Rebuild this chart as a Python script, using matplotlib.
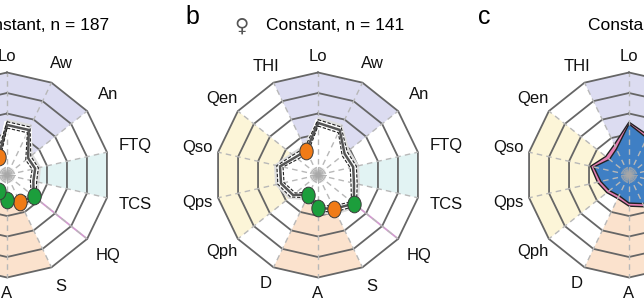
import numpy as np
import matplotlib.pyplot as plt
from matplotlib.markers import MarkerStyle
from matplotlib.transforms import Affine2D

plt.rcParams['font.family'] = ['Liberation Sans', 'DejaVu Sans']

spokes = ['Lo', 'Aw', 'An', 'FTQ', 'TCS', 'HQ', 'S', 'A', 'D', 'Qph', 'Qps', 'Qso', 'Qen', 'THI']

# profiles in ring units (5 = outer ring)
male = [2.44, 2.44, 1.32, 1.41, 1.32, 1.66, 1.46, 1.22, 0.85, 1.00, 1.30, 1.40, 1.10, 0.95]
female = [2.54, 2.44, 1.66, 1.76, 1.80, 2.24, 1.83, 1.62, 1.07, 1.56, 1.85, 1.90, 1.40, 1.32]
blue_c = [2.49, 2.00, 1.70, 1.85, 1.75, 1.95, 1.55, 1.37, 1.12, 1.22, 1.41, 1.76, 1.22, 1.41]
pink_c = [2.58, 2.15, 1.85, 2.00, 1.90, 2.10, 1.72, 1.52, 1.28, 1.38, 1.58, 1.92, 1.45, 1.65]

orange_pts = ['THI', 'S']
green_pts = ['HQ', 'A', 'D']

# shaded domains (spoke names bounding each wedge)
domains = [(['THI', 'Lo', 'Aw', 'An'], '#dcdcf1'),
           (['FTQ', 'TCS'], '#e2f3f3'),
           (['S', 'A', 'D'], '#fbe2cd'),
           (['Qph', 'Qps', 'Qso', 'Qen'], '#fcf5d8')]

titles = ['Constant, n = 187', 'Constant, n = 141', 'Constant, n = 328']

W, H = 644, 304
fig = plt.figure(figsize=(W / 100, H / 100), dpi=100)

theta = 2 * np.pi * np.arange(len(spokes)) / len(spokes)
idx = {s: i for i, s in enumerate(spokes)}
px = 20.5   # pixels per ring unit
rmax = 6.0


def closed(v):
    v = np.asarray(v, dtype=float)
    return np.append(theta, theta[0]), np.append(v, v[0])


def base(cx, cy):
    h = rmax * px
    ax = fig.add_axes([(cx - h) / W, 1 - (cy + h) / H, 2 * h / W, 2 * h / H],
                      projection='polar')
    ax.set_theta_zero_location('N')
    ax.set_theta_direction(-1)
    ax.set_ylim(0, rmax)
    ax.axis('off')
    for names, col in domains:
        t = [theta[idx[n]] for n in names]
        ax.fill([0] + t, [0] + [5] * len(t), color=col, lw=0, zorder=1)
    hq = theta[idx['HQ']]
    ax.plot([hq, hq], [0, 5], color='#d49ad0', lw=1.3, zorder=1.5)
    for k in range(1, 6):
        tt, rr = closed([k] * len(spokes))
        ax.plot(tt, rr, color='#666666', lw=1.3, zorder=2)
    for i, s in enumerate(spokes):
        sn = np.sin(theta[i])
        r = 5.78 + 0.65 * sn if sn >= 0 else 5.72 - 0.33 * sn
        ax.text(theta[i], r, s, ha='center', va='center', fontsize=12, color='#111')
    return ax


def decorate(ax):
    for t in theta:
        ax.plot([t, t], [0.55, 5], color='#b8b8b8', lw=1.0, ls=(0, (4, 3)), zorder=4)
    for t in np.linspace(0, 2 * np.pi, 36, endpoint=False):
        ax.plot([t, t], [0.04, 0.38], color='#a8a8a8', lw=0.6, zorder=4)


def profile(ax, vals):
    v = np.asarray(vals)
    tt, rr = closed(v + 0.3)
    ax.fill(tt, rr, color='#dedede', lw=0, zorder=3)
    tt, rr = closed(v - 0.15)
    ax.fill(tt, rr, color='white', lw=0, zorder=3.1)
    decorate(ax)
    tt, rr = closed(v)
    ax.plot(tt, rr, color='white', lw=4.5, zorder=5)
    ax.plot(tt, rr, color='#555555', lw=1.8, zorder=5.1)
    for off in (0.16, -0.15):
        tt, rr = closed(v + off)
        ax.plot(tt, rr, color='#222222', lw=0.8, ls=(0, (3, 1.5)), zorder=5.2)
    oval = MarkerStyle('o', transform=Affine2D().scale(0.8, 1.0))
    for names, col in ((orange_pts, '#f07b17'), (green_pts, '#1c9e3c')):
        i = [idx[n] for n in names]
        ax.plot(theta[i], v[i], ls='none', marker=oval, ms=12, mfc=col,
                mec='#3a3a3a', mew=0.7, zorder=6)


centers = [(7, 175), (318, 175), (629, 175)]

ax_a = base(*centers[0])
profile(ax_a, male)

ax_b = base(*centers[1])
profile(ax_b, female)

ax_c = base(*centers[2])
tt, rr = closed(pink_c)
ax_c.fill(tt, rr, color='#e77fb2', ec='#222222', lw=1.0, zorder=3)
tt, rr = closed(blue_c)
ax_c.fill(tt, rr, color='#3f7fc4', ec='#222222', lw=1.0, zorder=3.1)
decorate(ax_c)

# titles and panel letters (pixel positions)
sym = dict(fontsize=14, color='#555', ha='center', va='center', family='DejaVu Sans')
fig.text(-55 / W, 1 - 26 / H, '\u2642', **sym)
fig.text(-29 / W, 1 - 25 / H, titles[0], fontsize=12.5, ha='left', va='center')
fig.text(241 / W, 1 - 26 / H, '\u2640', **sym)
fig.text(266 / W, 1 - 25 / H, titles[1], fontsize=12.5, ha='left', va='center')
fig.text(588 / W, 1 - 25 / H, titles[2], fontsize=12.5, ha='left', va='center')
fig.text(192 / W, 1 - 17 / H, 'b', fontsize=18, ha='center', va='center')
fig.text(484 / W, 1 - 17 / H, 'c', fontsize=18, ha='center', va='center')

fig.savefig('out.png', dpi=100)
